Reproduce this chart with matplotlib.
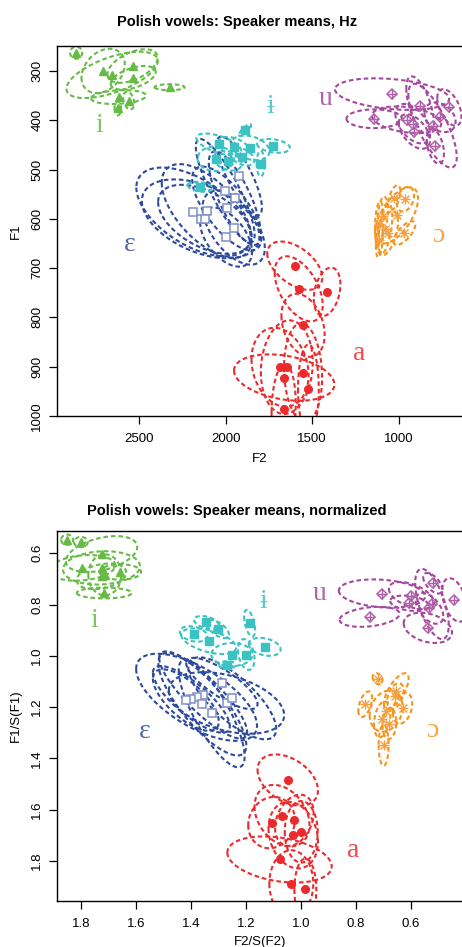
import numpy as np
import matplotlib
matplotlib.use("Agg")
import matplotlib.pyplot as plt

# ---------------- colours ----------------
COL = {"i": "#66BB44", "ɨ": "#3BC3C4", "ɛ": "#2E4A9C", "a": "#EC2A2C", "u": "#A5479D", "ɔ": "#F5951E"}
PTCOL = {"i": "#66BB44", "ɨ": "#3BC3C4", "ɛ": "#7F8FC8", "a": "#EC2A2C", "u": "#B060A8", "ɔ": "#F5A040"}
vowels = ["i", "ɨ", "ɛ", "a", "u", "ɔ"]

# ---------------- Panel 1: Hz (speaker means + ellipse extents) ----------------
hz_i_f2 = [2865, 2709, 2657, 2539, 2535, 2620, 2561, 2624, 2325]
hz_i_f1 = [263, 300, 308, 290, 314, 353, 360, 376, 333]
hz_i_sx = [35, 125, 264, 145, 130, 159, 32, 19, 87]
hz_i_sy = [12, 45, 47, 34, 24, 14, 18, 14, 6]
hz_i_r = [0, 0.3, 0.6, 0.5, 0.5, 0.2, -0.3, 0, 0]

hz_y_f2 = [1888, 2040, 1954, 1857, 1724, 2058, 1988, 1905, 1798, 2148]
hz_y_f1 = [420, 449, 454, 456, 452, 478, 482, 474, 488, 535]
hz_y_sx = [35, 130, 90, 110, 95, 105, 80, 70, 23, 72]
hz_y_sy = [12, 22, 20, 25, 14, 25, 20, 18, 26, 10]
hz_y_r = [0.8, -0.6, -0.4, -0.3, -0.3, 0, -0.3, -0.4, 0, -0.3]

hz_e_f2 = [1921, 2003, 1948, 2187, 2110, 1994, 2145, 2121, 1954, 1998]
hz_e_f1 = [513, 543, 558, 586, 584, 579, 600, 601, 618, 637]
hz_e_sx = [130, 170, 150, 330, 260, 200, 340, 270, 180, 150]
hz_e_sy = [80, 105, 95, 90, 95, 85, 80, 70, 75, 60]
hz_e_r = [-0.8, -0.85, -0.75, -0.55, -0.6, -0.7, -0.45, -0.5, -0.55, -0.5]

hz_a_f2 = [1601, 1578, 1414, 1553, 1686, 1647, 1553, 1662, 1522, 1665]
hz_a_f1 = [695, 742, 748, 816, 901, 901, 912, 922, 945, 985]
hz_a_sx = [159, 139, 77, 125, 165, 150, 110, 290, 60, 70]
hz_a_sy = [49, 66, 49, 64, 80, 95, 100, 47, 90, 90]
hz_a_r = [-0.5, -0.5, 0.3, -0.3, -0.2, 0.1, -0.1, -0.3, 0, 0.1]

hz_u_f2 = [1038, 1142, 876, 707, 761, 954, 919, 804, 909, 788]
hz_u_f1 = [347, 397, 371, 374, 394, 399, 407, 411, 423, 453]
hz_u_sx = [330, 160, 80, 70, 90, 200, 100, 140, 90, 50]
hz_u_sy = [32, 19, 60, 37, 30, 27, 40, 85, 35, 35]
hz_u_r = [-0.3, 0, -0.6, -0.5, -0.3, -0.3, -0.5, -0.75, -0.5, -0.4]

hz_o_f2 = [1025, 961, 1012, 1093, 1112, 1064, 967, 1112, 1077]
hz_o_f1 = [557, 560, 593, 595, 610, 629, 629, 643, 620]
hz_o_sx = [35, 50, 124, 30, 25, 60, 63, 20, 40]
hz_o_sy = [25, 25, 57, 40, 45, 45, 24, 35, 50]
hz_o_r = [0.5, 0.3, 0.6, 0.3, 0.2, 0.5, 0.7, 0.3, 0.5]

hz_lab_f2 = [2730, 1738, 2557, 1231, 1420, 769]
hz_lab_f1 = [410, 372, 653, 874, 355, 633]

# ---------------- Panel 2: normalized ----------------
nm_i_f2 = [1.851, 1.801, 1.726, 1.796, 1.726, 1.714, 1.726, 1.657, 1.716]
nm_i_f1 = [0.547, 0.556, 0.603, 0.657, 0.657, 0.684, 0.690, 0.673, 0.755]
nm_i_sx = [0.022, 0.025, 0.13, 0.12, 0.14, 0.06, 0.09, 0.075, 0.10]
nm_i_sy = [0.02, 0.02, 0.07, 0.05, 0.065, 0.08, 0.05, 0.03, 0.021]
nm_i_r = [0, 0, 0.4, 0.2, 0.1, 0, 0.3, 0, 0]

nm_y_f2 = [1.344, 1.302, 1.391, 1.336, 1.187, 1.132, 1.251, 1.199, 1.268]
nm_y_f1 = [0.870, 0.896, 0.915, 0.943, 0.873, 0.965, 0.995, 0.995, 1.036]
nm_y_sx = [0.045, 0.04, 0.05, 0.10, 0.02, 0.058, 0.075, 0.03, 0.03]
nm_y_sy = [0.025, 0.035, 0.03, 0.05, 0.052, 0.035, 0.045, 0.06, 0.015]
nm_y_r = [-0.4, -0.6, -0.3, -0.5, -0.5, -0.3, 0, -0.3, 0]

nm_e_f2 = [1.288, 1.356, 1.380, 1.399, 1.419, 1.359, 1.271, 1.250, 1.325]
nm_e_f1 = [1.108, 1.153, 1.162, 1.170, 1.173, 1.189, 1.184, 1.166, 1.225]
nm_e_sx = [0.13, 0.16, 0.22, 0.14, 0.12, 0.16, 0.21, 0.16, 0.12]
nm_e_sy = [0.10, 0.17, 0.17, 0.13, 0.12, 0.20, 0.12, 0.16, 0.21]
nm_e_r = [-0.8, -0.85, -0.65, -0.8, -0.7, -0.8, -0.4, -0.75, -0.8]

nm_a_f2 = [1.048, 1.069, 1.024, 1.107, 0.999, 1.028, 1.078, 1.035, 0.984]
nm_a_f1 = [1.485, 1.624, 1.642, 1.651, 1.687, 1.700, 1.795, 1.889, 1.912]
nm_a_sx = [0.11, 0.10, 0.07, 0.085, 0.06, 0.09, 0.19, 0.08, 0.04]
nm_a_sy = [0.10, 0.12, 0.10, 0.10, 0.12, 0.13, 0.09, 0.13, 0.12]
nm_a_r = [-0.4, -0.3, 0.3, 0.1, 0, -0.2, -0.3, 0, 0]

nm_u_f2 = [0.705, 0.598, 0.520, 0.441, 0.605, 0.523, 0.532, 0.750, 0.538]
nm_u_f1 = [0.757, 0.765, 0.717, 0.782, 0.795, 0.798, 0.815, 0.848, 0.891]
nm_u_sx = [0.157, 0.082, 0.035, 0.045, 0.07, 0.061, 0.05, 0.109, 0.088]
nm_u_sy = [0.055, 0.053, 0.04, 0.085, 0.03, 0.137, 0.06, 0.039, 0.059]
nm_u_r = [-0.2, -0.5, -0.6, -0.4, -0.3, -0.6, -0.5, 0.3, -0.3]

nm_o_f2 = [0.721, 0.653, 0.656, 0.766, 0.630, 0.690, 0.704, 0.678, 0.699]
nm_o_f1 = [1.090, 1.138, 1.157, 1.189, 1.205, 1.216, 1.248, 1.265, 1.349]
nm_o_sx = [0.018, 0.045, 0.03, 0.025, 0.035, 0.06, 0.03, 0.025, 0.018]
nm_o_sy = [0.022, 0.07, 0.05, 0.05, 0.06, 0.08, 0.07, 0.06, 0.08]
nm_o_r = [-0.3, 0.7, 0.4, 0.5, 0.3, 0.2, 0.3, 0.1, 0]

nm_lab_f2 = [1.753, 1.135, 1.568, 0.811, 0.932, 0.522]
nm_lab_f1 = [0.861, 0.789, 1.297, 1.759, 0.756, 1.290]

hz_ticks_x = [2500, 2000, 1500, 1000]
hz_ticks_y = [300, 400, 500, 600, 700, 800, 900, 1000]
nm_ticks_x = [1.8, 1.6, 1.4, 1.2, 1.0, 0.8, 0.6]
nm_ticks_y = [0.6, 0.8, 1.0, 1.2, 1.4, 1.6, 1.8]

plt.rcParams["font.family"] = ["Liberation Sans", "DejaVu Sans"]

W, H = 462, 947
fig = plt.figure(figsize=(W / 100, H / 100), dpi=100)


def axes_px(left, top, right, bottom):
    return fig.add_axes([left / W, 1 - bottom / H, (right - left) / W, (bottom - top) / H])


def ellipse_xy(cx, cy, sx, sy, r, n=120):
    t = np.linspace(0, 2 * np.pi, n)
    x = cx + sx * np.cos(t)
    y = cy + sy * (r * np.cos(t) + np.sqrt(1 - r * r) * np.sin(t))
    return x, y


def draw_vowel(ax, v, f2, f1, sx, sy, r):
    c = COL[v]
    for k in range(len(f2)):
        x, y = ellipse_xy(f2[k], f1[k], sx[k], sy[k], r[k])
        ax.plot(x, y, color=c, lw=1.5, ls=(0, (2.2, 1.4)), zorder=2)
    pc = PTCOL[v]
    if v == "i":
        ax.plot(f2, f1, ls="none", marker="^", ms=6, color=pc, mec=pc, zorder=3)
    elif v == "ɨ":
        ax.plot(f2, f1, ls="none", marker="s", ms=5.5, color=pc, mec=pc, zorder=3)
    elif v == "ɛ":
        ax.plot(f2, f1, ls="none", marker="s", ms=5.5, mfc="white", mec=pc, mew=1.1, zorder=3)
    elif v == "a":
        ax.plot(f2, f1, ls="none", marker="o", ms=5.5, color=pc, mec=pc, zorder=3)
    elif v == "u":
        ax.plot(f2, f1, ls="none", marker="D", ms=5.5, mfc="none", mec=pc, mew=1.1, zorder=3)
        ax.plot(f2, f1, ls="none", marker="+", ms=6.5, mec=pc, mew=1.0, zorder=3)
    elif v == "ɔ":
        ax.plot(f2, f1, ls="none", marker="+", ms=7.5, mec=pc, mew=1.0, zorder=3)
        ax.plot(f2, f1, ls="none", marker="x", ms=5.5, mec=pc, mew=1.0, zorder=3)


def style(ax, xt, yt, xfmt, yfmt):
    ax.set_xticks(xt)
    ax.set_yticks(yt)
    ax.set_xticklabels([xfmt(v) for v in xt])
    ax.set_yticklabels([yfmt(v) for v in yt], rotation=90, va="center")
    ax.tick_params(direction="out", length=6, width=0.9, labelsize=9.5, pad=4, colors="black")
    ax.tick_params(axis="x", pad=6)
    for s in ax.spines.values():
        s.set_linewidth(1.0)


labfont = dict(family=["Liberation Serif", "DejaVu Serif"], fontsize=20, ha="center", va="center", alpha=0.85)

# ---------- top panel ----------
ax1 = axes_px(57.3, 46.3, 463, 416)
hz_sets = {
    "i": (hz_i_f2, hz_i_f1, hz_i_sx, hz_i_sy, hz_i_r),
    "ɨ": (hz_y_f2, hz_y_f1, hz_y_sx, hz_y_sy, hz_y_r),
    "ɛ": (hz_e_f2, hz_e_f1, hz_e_sx, hz_e_sy, hz_e_r),
    "a": (hz_a_f2, hz_a_f1, hz_a_sx, hz_a_sy, hz_a_r),
    "u": (hz_u_f2, hz_u_f1, hz_u_sx, hz_u_sy, hz_u_r),
    "ɔ": (hz_o_f2, hz_o_f1, hz_o_sx, hz_o_sy, hz_o_r),
}
for v in ["ɛ", "ɨ", "i", "a", "u", "ɔ"]:
    draw_vowel(ax1, v, *hz_sets[v])
for k, v in enumerate(vowels):
    ax1.text(hz_lab_f2[k], hz_lab_f1[k], v, color=COL[v], **labfont)
ax1.set_xlim(2974, 628)
ax1.set_ylim(1000, 250)
style(ax1, hz_ticks_x, hz_ticks_y, lambda v: f"{v}", lambda v: f"{v}")

# ---------- bottom panel ----------
ax2 = axes_px(57.3, 531, 463, 901)
nm_sets = {
    "i": (nm_i_f2, nm_i_f1, nm_i_sx, nm_i_sy, nm_i_r),
    "ɨ": (nm_y_f2, nm_y_f1, nm_y_sx, nm_y_sy, nm_y_r),
    "ɛ": (nm_e_f2, nm_e_f1, nm_e_sx, nm_e_sy, nm_e_r),
    "a": (nm_a_f2, nm_a_f1, nm_a_sx, nm_a_sy, nm_a_r),
    "u": (nm_u_f2, nm_u_f1, nm_u_sx, nm_u_sy, nm_u_r),
    "ɔ": (nm_o_f2, nm_o_f1, nm_o_sx, nm_o_sy, nm_o_r),
}
for v in ["ɛ", "ɨ", "i", "a", "u", "ɔ"]:
    draw_vowel(ax2, v, *nm_sets[v])
for k, v in enumerate(vowels):
    ax2.text(nm_lab_f2[k], nm_lab_f1[k], v, color=COL[v], **labfont)
ax2.set_xlim(1.887, 0.410)
ax2.set_ylim(1.957, 0.513)
style(ax2, nm_ticks_x, nm_ticks_y, lambda v: f"{v:.1f}", lambda v: f"{v:.1f}")

# ---------- titles & labels ----------
fig.text(237 / W, 1 - 22 / H, "Polish vowels: Speaker means, Hz", ha="center", va="center",
         fontsize=10.5, fontweight="bold")
fig.text(237 / W, 1 - 510.7 / H, "Polish vowels: Speaker means, normalized", ha="center", va="center",
         fontsize=10.5, fontweight="bold")
fig.text(259.6 / W, 1 - 459 / H, "F2", ha="center", va="center", fontsize=9.5)
fig.text(259.6 / W, 1 - 942 / H, "F2/S(F2)", ha="center", va="center", fontsize=9.5)
fig.text(15.7 / W, 1 - 231 / H, "F1", ha="center", va="center", fontsize=9.5, rotation=90)
fig.text(15.7 / W, 1 - 716 / H, "F1/S(F1)", ha="center", va="center", fontsize=9.5, rotation=90)

fig.savefig("out.png", dpi=100)
